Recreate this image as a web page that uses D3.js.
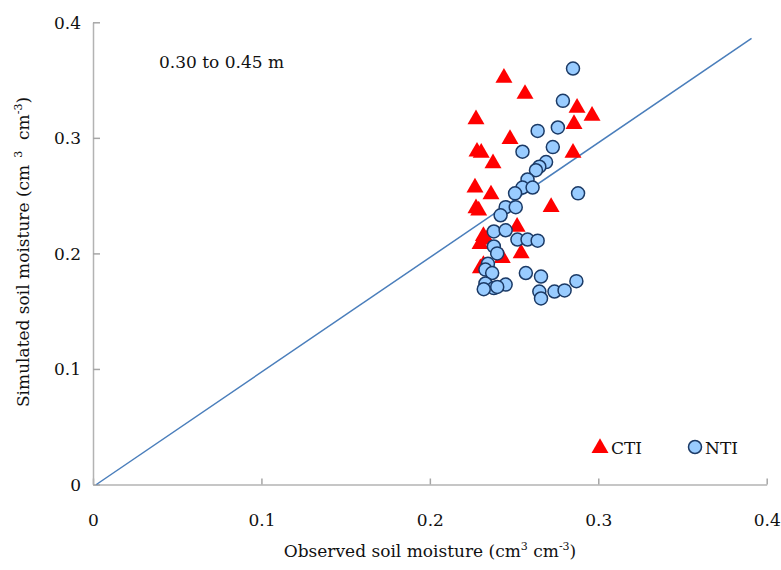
<!DOCTYPE html>
<html><head><meta charset="utf-8">
<script src="https://cdn.jsdelivr.net/npm/d3@7"></script>
<style>body{margin:0;background:#fff}svg{display:block}svg text{font-family:"DejaVu Serif",serif !important;fill:#111}</style>
</head><body><svg id="c" width="781" height="570"></svg>
<script>
const xTicks = [0, 0.1, 0.2, 0.3, 0.4];
const yTicks = [0, 0.1, 0.2, 0.3, 0.4];
const ctiObs = [0.244,0.2565,0.2874,0.2963,0.2856,0.2274,0.2476,0.228,0.2305,0.2375,0.285,0.2268,0.2363,0.2274,0.2290,0.272,0.2318,0.2335,0.2518,0.2298,0.2542,0.2430,0.2300,0.2318];
const ctiSim = [0.352,0.338,0.326,0.319,0.312,0.316,0.299,0.288,0.287,0.278,0.287,0.257,0.251,0.239,0.237,0.240,0.215,0.212,0.223,0.208,0.200,0.196,0.187,0.190];
const ntiObs = [0.285,0.279,0.276,0.264,0.273,0.255,0.269,0.265,0.263,0.258,0.255,0.261,0.2506,0.288,0.245,0.251,0.242,0.238,0.245,0.252,0.258,0.264,0.238,0.240,0.2345,0.233,0.237,0.257,0.266,0.287,0.233,0.245,0.238,0.232,0.240,0.265,0.274,0.280,0.266];
const ntiSim = [0.360,0.332,0.309,0.306,0.292,0.288,0.279,0.275,0.272,0.264,0.257,0.257,0.252,0.252,0.240,0.240,0.233,0.219,0.220,0.212,0.212,0.211,0.206,0.200,0.191,0.186,0.183,0.183,0.180,0.176,0.174,0.173,0.170,0.169,0.171,0.167,0.167,0.168,0.161];
const lineObs = [0.002, 0.391];
const lineSim = [0, 0.386];
const label = "0.30 to 0.45 m";

const svg = d3.select("#c");
const x = d3.scaleLinear().domain([0,0.4]).range([93,766.7]);
const y = d3.scaleLinear().domain([0,0.4]).range([484.5,22.3]);

// axes
const xa = svg.append("g").attr("transform","translate(0,484.5)")
  .call(d3.axisBottom(x).tickValues(xTicks).tickSizeInner(-6).tickSizeOuter(0).tickFormat(d3.format("")));
const ya = svg.append("g").attr("transform","translate(93,0)")
  .call(d3.axisLeft(y).tickValues(yTicks).tickSizeInner(-7).tickSizeOuter(0).tickFormat(d3.format("")));
[xa,ya].forEach(a=>{
  a.attr("font-family",null);
  a.select(".domain").attr("stroke","#b3b3b3").attr("stroke-width",1.5);
  a.selectAll(".tick line").attr("stroke","#a6a6a6").attr("stroke-width",1.5);
  a.selectAll("text").style("font-size","17px").attr("fill","#111");
});
xa.selectAll("text").attr("dy",0).attr("y",41);
ya.selectAll("text").attr("x",-12).attr("dy","0.35em");

// 1:1 line
svg.append("path").datum(d3.zip(lineObs,lineSim))
  .attr("d", d3.line().x(d=>x(d[0])).y(d=>y(d[1])))
  .attr("stroke","#4a7ebb").attr("stroke-width",1.5).attr("fill","none");

// CTI triangles
const tri = d3.symbol().type(d3.symbolTriangle).size(125);
svg.append("g").selectAll("path").data(d3.zip(ctiObs,ctiSim)).join("path")
  .attr("d",tri).attr("transform",d=>`translate(${x(d[0])},${y(d[1])})`)
  .attr("fill","#ff0000");

// NTI circles
svg.append("g").selectAll("circle").data(d3.zip(ntiObs,ntiSim)).join("circle")
  .attr("cx",d=>x(d[0])).attr("cy",d=>y(d[1])).attr("r",6.5)
  .attr("fill","#99ccff").attr("stroke","#1b3a66").attr("stroke-width",1.5);

// label
svg.append("text").attr("x",159).attr("y",68).style("font-size","17px").text(label);

// legend
svg.append("path").attr("d",tri).attr("transform","translate(600,448)").attr("fill","#ff0000");
svg.append("text").attr("x",611).attr("y",454).style("font-size","17px").text("CTI");
svg.append("circle").attr("cx",695).attr("cy",447).attr("r",6.5).attr("fill","#99ccff").attr("stroke","#1b3a66").attr("stroke-width",1.5);
svg.append("text").attr("x",705).attr("y",454).style("font-size","17px").text("NTI");

// x title
const xt = svg.append("text").attr("x",430).attr("y",557).attr("text-anchor","middle").style("font-size","17px");
xt.append("tspan").text("Observed soil moisture (cm");
xt.append("tspan").attr("dy",-7).style("font-size","11px").text("3");
xt.append("tspan").attr("dy",7).text(" cm");
xt.append("tspan").attr("dy",-7).style("font-size","11px").text("-3");
xt.append("tspan").attr("dy",7).text(")");

// y title
const yt = svg.append("text").attr("transform","translate(29,252) rotate(-90)").attr("text-anchor","middle").style("font-size","17px");
yt.append("tspan").text("Simulated soil moisture (cm");
yt.append("tspan").attr("dy",-7).style("font-size","11px").text("\u00a0\u00a03");
yt.append("tspan").attr("dy",7).text("\u00a0\u00a0cm");
yt.append("tspan").attr("dy",-7).style("font-size","11px").text("-3");
yt.append("tspan").attr("dy",7).text(")");
</script></body></html>
